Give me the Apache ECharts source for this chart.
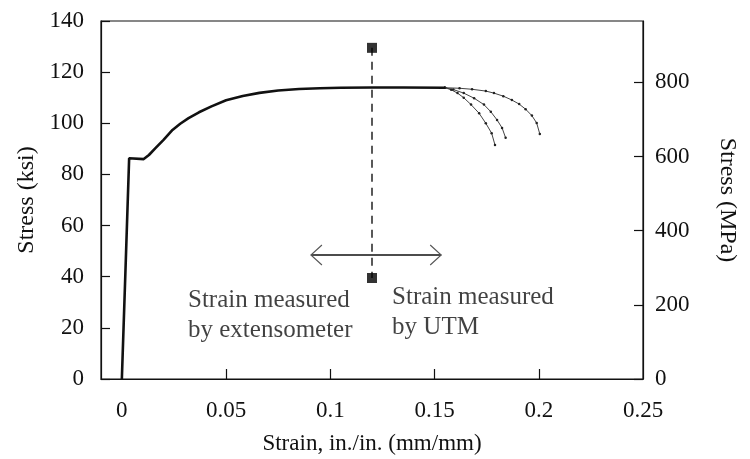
<!DOCTYPE html>
<html>
<head>
<meta charset="utf-8">
<script src="https://cdn.jsdelivr.net/npm/echarts@6/dist/echarts.min.js"></script>
<style>
  html, body { margin: 0; padding: 0; background: #fff; }
  #chart { width: 750px; height: 459px; }
</style>
</head>
<body>
<div id="chart"></div>
<script>
// Unit conversion for the secondary stress axis
const KSI_TO_MPA = 6.895;

// Axis tick values
const strainTicks = [0, 0.05, 0.1, 0.15, 0.2, 0.25];
const strainTickMarks = [0.05, 0.1, 0.15, 0.2];
const ksiTicks = [0, 20, 40, 60, 80, 100, 120, 140];
const mpaTicks = [0, 200, 400, 600, 800];

// Stress-strain curve shared by the specimens: [strain, stress ksi]
const mainCurve = [
  [0, 0], [0.0018, 44], [0.0035, 86.3], [0.004, 86.2], [0.0105, 86],
  [0.013, 87.6], [0.016, 90.2], [0.02, 93.5], [0.0243, 97.4], [0.028, 99.8],
  [0.032, 102], [0.037, 104.3], [0.043, 106.6], [0.05, 109.0], [0.058, 110.7],
  [0.066, 111.9], [0.075, 112.8], [0.085, 113.4], [0.095, 113.7], [0.105, 113.9],
  [0.12, 114], [0.135, 114], [0.155, 113.9]
];

// Necking branches to fracture, one per specimen
const branchA = [
  [0.155, 113.9], [0.158, 113.1], [0.161, 111.8], [0.164, 110.0], [0.1675, 107.3],
  [0.1714, 103.9], [0.1746, 100.0], [0.1774, 96.1], [0.179, 91.5]
];
const branchB = [
  [0.155, 113.9], [0.159, 113.2], [0.164, 111.8], [0.169, 109.8], [0.1737, 107.3],
  [0.177, 104.5], [0.180, 101.3], [0.1824, 98.2], [0.1841, 94.3]
];
const branchC = [
  [0.155, 113.9], [0.162, 113.7], [0.168, 113.3], [0.1746, 112.6], [0.1785, 111.8],
  [0.1830, 110.6], [0.1871, 109.1], [0.1906, 107.5], [0.1937, 105.5], [0.1967, 103.0],
  [0.199, 100.1], [0.2005, 95.8]
];

// Switch-over from extensometer to crosshead strain
const switchStrain = 0.12;
const switchMarks = [129.5, 39.5];
const arrowSpan = [0.0907, 0.1532];
const arrowStress = 48.5;

// Annotation texts: [strain, stress ksi, text]
const notes = [
  [0.0315, 25.0, 'Strain measured\nby extensometer'],
  [0.1294, 26.0, 'Strain measured\nby UTM']
];

const FONT = '"Liberation Serif", "Times New Roman", serif';
const INK = '#111';

const chart = echarts.init(document.getElementById('chart'), null, { renderer: 'canvas' });

const branchStyle = {
  type: 'line',
  showSymbol: true,
  symbol: 'circle',
  symbolSize: 2.5,
  itemStyle: { color: '#222' },
  lineStyle: { color: '#444', width: 1 },
  z: 3
};

chart.setOption({
  animation: false,
  backgroundColor: '#fff',
  grid: {
    left: 101, right: 107, top: 21, bottom: 80,
    show: true, borderColor: INK, borderWidth: 1.2,
    containLabel: false, outerBoundsMode: 'none'
  },
  xAxis: {
    type: 'value',
    min: -0.01, max: 0.25,
    name: 'Strain, in./in. (mm/mm)',
    nameLocation: 'middle',
    nameGap: 53,
    nameTextStyle: { fontFamily: FONT, fontSize: 23, color: INK },
    axisLine: { show: true, onZero: false, lineStyle: { color: INK, width: 1.2 } },
    axisTick: { show: true, inside: true, length: 10, customValues: strainTickMarks, lineStyle: { color: INK, width: 1.2 } },
    axisLabel: {
      customValues: strainTicks, margin: 20,
      fontFamily: FONT, fontSize: 23, color: INK,
      formatter: v => String(v)
    },
    splitLine: { show: false }
  },
  yAxis: [
    {
      type: 'value',
      min: 0, max: 140, interval: 20,
      name: 'Stress (ksi)',
      nameLocation: 'middle',
      nameGap: 62,
      nameRotate: 90,
      nameTextStyle: { fontFamily: FONT, fontSize: 24, color: INK },
      axisLine: { show: true, onZero: false, lineStyle: { color: INK, width: 1.2 } },
      axisTick: { show: true, inside: true, length: 9, customValues: ksiTicks, lineStyle: { color: INK, width: 1.2 } },
      axisLabel: { customValues: ksiTicks, margin: 17, fontFamily: FONT, fontSize: 23, color: INK },
      splitLine: { show: false }
    },
    {
      type: 'value',
      position: 'right',
      min: 0, max: 140 * KSI_TO_MPA,
      name: 'Stress (MPa)',
      nameLocation: 'middle',
      nameGap: 72,
      nameRotate: -90,
      nameTextStyle: { fontFamily: FONT, fontSize: 24, color: INK },
      axisLine: { show: true, onZero: false, lineStyle: { color: INK, width: 1.2 } },
      axisTick: { show: true, inside: true, length: 9, customValues: mpaTicks, lineStyle: { color: INK, width: 1.2 } },
      axisLabel: { customValues: mpaTicks, margin: 12, fontFamily: FONT, fontSize: 23, color: INK },
      splitLine: { show: false }
    }
  ],
  series: [
    Object.assign({}, branchStyle, { name: 'A', data: branchA }),
    Object.assign({}, branchStyle, { name: 'B', data: branchB }),
    Object.assign({}, branchStyle, { name: 'C', data: branchC }),
    {
      name: 'curve',
      type: 'line',
      data: mainCurve,
      showSymbol: false,
      lineStyle: { color: '#111', width: 2.6 },
      z: 4
    },
    {
      name: 'switch line',
      type: 'line',
      data: switchMarks.map(s => [switchStrain, s]),
      showSymbol: false,
      lineStyle: { color: '#222', width: 1.5, type: [8, 6] },
      z: 2
    },
    {
      name: 'switch marks',
      type: 'scatter',
      data: switchMarks.map(s => [switchStrain, s]),
      symbol: 'rect',
      symbolSize: 10,
      itemStyle: { color: '#000' },
      z: 5
    },
    {
      name: 'span arrow',
      type: 'custom',
      data: [[arrowSpan[0], arrowSpan[1], arrowStress]],
      encode: { x: [0, 1], y: 2 },
      renderItem: function (params, api) {
        const a = api.coord([api.value(0), api.value(2)]);
        const b = api.coord([api.value(1), api.value(2)]);
        const hx = 11, hy = 10;
        return {
          type: 'group',
          children: [
            { type: 'line', shape: { x1: a[0], y1: a[1], x2: b[0], y2: b[1] },
              style: { stroke: '#111', lineWidth: 1.6 } },
            { type: 'polyline', shape: { points: [[a[0] + hx, a[1] - hy], a, [a[0] + hx, a[1] + hy]] },
              style: { stroke: '#555', fill: null, lineWidth: 1.1 } },
            { type: 'polyline', shape: { points: [[b[0] - hx, b[1] - hy], b, [b[0] - hx, b[1] + hy]] },
              style: { stroke: '#555', fill: null, lineWidth: 1.1 } }
          ]
        };
      },
      z: 3
    },
    {
      name: 'notes',
      type: 'scatter',
      data: notes.map(n => ({ value: [n[0], n[1]], name: n[2] })),
      symbolSize: 1,
      itemStyle: { color: 'rgba(0,0,0,0)' },
      label: {
        show: true, position: 'right', distance: 0,
        formatter: p => p.name,
        fontFamily: FONT, fontSize: 25, lineHeight: 30, color: INK, align: 'left'
      },
      z: 6
    }
  ]
});
</script>
</body>
</html>
